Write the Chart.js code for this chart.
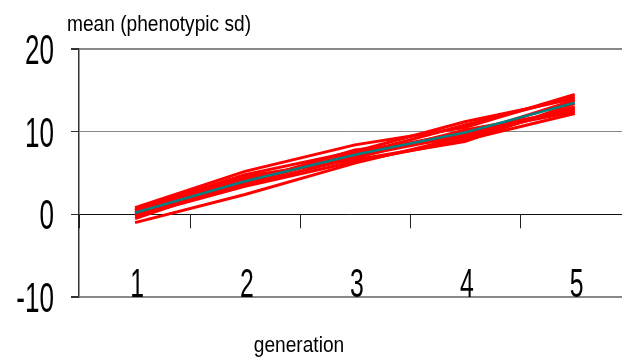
<!DOCTYPE html>
<html>
<head>
<meta charset="utf-8">
<script src="https://cdn.jsdelivr.net/npm/chart.js@4/dist/chart.umd.min.js"></script>
<style>
  html, body { margin: 0; padding: 0; background: #fff; }
  #wrap { width: 622px; height: 358px; }
</style>
</head>
<body>
<div id="wrap"><canvas id="chart"></canvas></div>
<script>
const generations = [1, 2, 3, 4, 5]
const yTicks = [-10, 0, 10, 20]

// replicate runs (red)
const run1 = [0.8, 5.2, 8.4, 10.5, 14.5]
const run2 = [0.6, 4.8, 7.6, 11.2, 14.0]
const run3 = [0.4, 4.3, 7.0, 9.6, 13.8]
const run4 = [0.2, 3.9, 7.8, 9.2, 13.0]
const run5 = [0.0, 3.6, 6.8, 10.2, 12.6]
const run6 = [-0.2, 3.4, 6.4, 9.0, 12.2]
const run7 = [-0.5, 4.0, 7.2, 10.8, 14.2]
const run8 = [-1.0, 2.4, 6.2, 9.4, 12.8]
const run9 = [0.5, 4.6, 6.6, 8.8, 13.4]
const run10 = [0.1, 3.8, 7.4, 9.9, 12.4]
// mean over runs (teal)
const meanRun = [0.2, 4.0, 7.2, 9.9, 13.5]

const runs = [run1, run2, run3, run4, run5, run6, run7, run8, run9, run10]

const font = "'Liberation Sans', Arial, sans-serif"

const toPoints = (vals) => vals.map((v, i) => ({ x: generations[i], y: v }))

const datasets = [{
  data: toPoints(meanRun),
  borderColor: '#008080',
  borderWidth: 2.5,
  pointRadius: 0,
  tension: 0
}]
runs.forEach((r) => {
  datasets.push({
    data: toPoints(r),
    borderColor: '#ff0000',
    borderWidth: 3,
    pointRadius: 0,
    tension: 0
  })
})

// text squeezed horizontally, like the narrow font of the original
const squished = (ctx, text, x, y, align, size, sx) => {
  ctx.save()
  ctx.font = size + 'px ' + font
  ctx.textAlign = align
  ctx.translate(x, y)
  ctx.scale(sx, 1)
  ctx.fillText(text, 0, 0)
  ctx.restore()
}

const decor = {
  id: 'decor',
  beforeDatasetsDraw: (chart) => {
    const {ctx} = chart
    const x = chart.scales.x, y = chart.scales.y
    const y0 = y.getPixelForValue(0)
    ctx.save()
    ctx.strokeStyle = '#222'
    ctx.lineWidth = 1
    for (let g = 1.5; g < 6; g++) {
      const px = Math.round(x.getPixelForValue(g)) + 0.5
      ctx.beginPath()
      ctx.moveTo(px, y0)
      ctx.lineTo(px, y0 + 14)
      ctx.stroke()
    }
    ctx.lineWidth = 2
    ctx.beginPath()
    ctx.moveTo(chart.chartArea.left, y0)
    ctx.lineTo(chart.chartArea.left, y0 + 14)
    ctx.stroke()
    ctx.restore()
  },
  afterDraw: (chart) => {
    const {ctx} = chart
    const x = chart.scales.x, y = chart.scales.y
    ctx.save()
    ctx.fillStyle = '#000'
    ctx.textBaseline = 'alphabetic'
    yTicks.forEach((v) => {
      squished(ctx, String(v), 54, y.getPixelForValue(v) + 15, 'right', 42, 0.62)
    })
    generations.forEach((g) => {
      squished(ctx, String(g), x.getPixelForValue(g) + 2, y.getPixelForValue(-10) - 0.5, 'center', 40, 0.62)
    })
    squished(ctx, 'mean (phenotypic sd)', 67, 31, 'left', 22, 0.87)
    squished(ctx, 'generation', 299, 352, 'center', 22, 0.87)
    ctx.restore()
  }
}

new Chart(document.getElementById('chart'), {
  type: 'line',
  data: { datasets: datasets },
  options: {
    responsive: true,
    maintainAspectRatio: false,
    animation: false,
    layout: { padding: { top: 49, right: 0, left: 0, bottom: 0 } },
    plugins: {
      legend: { display: false },
      tooltip: { enabled: false }
    },
    scales: {
      x: {
        type: 'linear',
        min: 0.49,
        max: 5.43,
        grid: { display: false },
        border: { display: false },
        ticks: { display: false },
        afterFit: (s) => { s.height = 61 }
      },
      y: {
        min: -10,
        max: 20,
        afterBuildTicks: (s) => { s.ticks = yTicks.map((v) => ({ value: v })) },
        afterFit: (s) => { s.width = 79 },
        border: { color: '#333', width: 1.5 },
        grid: {
          color: (c) => c.tick && c.tick.value === 0 ? '#111' : '#888',
          lineWidth: (c) => c.tick && (c.tick.value === 20 || c.tick.value === -10) ? 2 : 1,
          tickColor: '#333',
          tickLength: 8
        },
        ticks: { display: false }
      }
    }
  },
  plugins: [decor]
})
</script>
</body>
</html>
